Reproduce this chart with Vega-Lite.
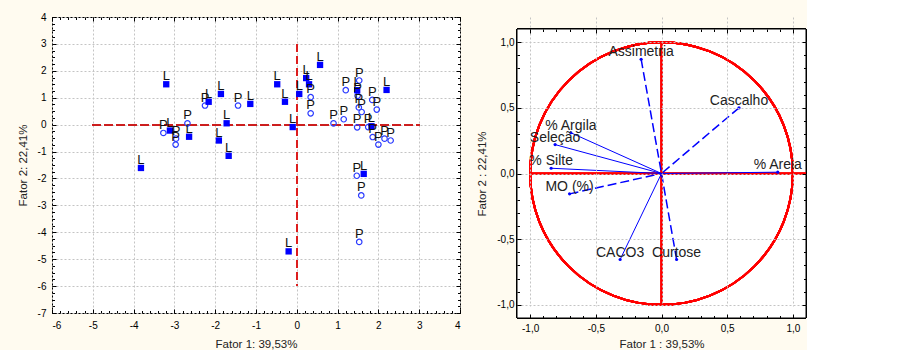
{
  "$schema": "https://vega.github.io/schema/vega-lite/v6.json",
  "background": "#fffbf0",
  "padding": {"left": 16, "top": 11, "right": 0, "bottom": 0},
  "spacing": 15,
  "config": {
    "locale": {"number": {"decimal": ",", "thousands": ".", "grouping": [3], "currency": ["", ""], "minus": "-"}},
    "font": "Liberation Sans",
    "axis": {"labelFont": "Liberation Sans", "titleFont": "Liberation Sans", "labelFontSize": 10, "titleFontSize": 11.5, "titleFontWeight": "normal", "labelColor": "#000000", "titleColor": "#222222", "tickColor": "#000000", "domainColor": "#000000", "gridColor": "#c4c4c4", "gridDash": [2, 2], "tickSize": -4}
  },
  "hconcat": [
    {
      "width": 408,
      "height": 296,
      "view": {"fill": "white", "stroke": "black", "strokeWidth": 1},
      "resolve": {"axis": {"x": "independent", "y": "independent"}},
      "data": {"values": [
        {"x": -3.20, "y": 1.50, "tipo": "L"},
        {"x": -3.82, "y": -1.61, "tipo": "L"},
        {"x": -3.11, "y": -0.22, "tipo": "L"},
        {"x": -2.64, "y": -0.45, "tipo": "L"},
        {"x": -2.16, "y": 0.85, "tipo": "L"},
        {"x": -1.86, "y": 1.14, "tipo": "L"},
        {"x": -1.72, "y": 0.05, "tipo": "L"},
        {"x": -1.91, "y": -0.59, "tipo": "L"},
        {"x": -1.67, "y": -1.16, "tipo": "L"},
        {"x": -1.14, "y": 0.77, "tipo": "L"},
        {"x": -0.48, "y": 1.50, "tipo": "L"},
        {"x": -0.29, "y": 0.85, "tipo": "L"},
        {"x": -0.10, "y": -0.09, "tipo": "L"},
        {"x": -0.20, "y": -4.71, "tipo": "L"},
        {"x": 0.06, "y": 1.14, "tipo": "L"},
        {"x": 0.23, "y": 1.73, "tipo": "L"},
        {"x": 0.30, "y": 1.50, "tipo": "L"},
        {"x": 0.57, "y": 2.22, "tipo": "L"},
        {"x": 1.48, "y": 1.28, "tipo": "L"},
        {"x": 2.20, "y": 1.29, "tipo": "L"},
        {"x": 1.83, "y": -0.06, "tipo": "L"},
        {"x": 1.64, "y": -1.83, "tipo": "L"},
        {"x": -3.27, "y": -0.31, "tipo": "P"},
        {"x": -2.96, "y": -0.52, "tipo": "P"},
        {"x": -2.97, "y": -0.74, "tipo": "P"},
        {"x": -2.68, "y": 0.05, "tipo": "P"},
        {"x": -2.25, "y": 0.71, "tipo": "P"},
        {"x": -1.44, "y": 0.71, "tipo": "P"},
        {"x": 0.34, "y": 1.02, "tipo": "P"},
        {"x": 0.34, "y": 0.42, "tipo": "P"},
        {"x": 0.90, "y": 0.05, "tipo": "P"},
        {"x": 1.15, "y": 0.20, "tipo": "P"},
        {"x": 1.20, "y": 1.28, "tipo": "P"},
        {"x": 1.53, "y": 1.64, "tipo": "P"},
        {"x": 1.49, "y": 1.07, "tipo": "P"},
        {"x": 1.52, "y": 0.64, "tipo": "P"},
        {"x": 1.59, "y": 0.47, "tipo": "P"},
        {"x": 1.85, "y": 0.92, "tipo": "P"},
        {"x": 1.96, "y": 0.56, "tipo": "P"},
        {"x": 1.48, "y": -0.10, "tipo": "P"},
        {"x": 1.75, "y": -0.09, "tipo": "P"},
        {"x": 1.86, "y": -0.46, "tipo": "P"},
        {"x": 2.00, "y": -0.74, "tipo": "P"},
        {"x": 2.15, "y": -0.52, "tipo": "P"},
        {"x": 2.30, "y": -0.59, "tipo": "P"},
        {"x": 1.47, "y": -1.90, "tipo": "P"},
        {"x": 1.58, "y": -2.63, "tipo": "P"},
        {"x": 1.53, "y": -4.36, "tipo": "P"}
      ]},
      "layer": [
        {
          "mark": {"type": "rule", "color": "#cc1f1f", "strokeDash": [8, 4], "strokeWidth": 1.2},
          "encoding": {
            "x": {"datum": -5, "type": "quantitative", "scale": {"domain": [-6, 4], "nice": false, "zero": false}, "axis": {"orient": "bottom", "values": [-6, -5, -4, -3, -2, -1, 0, 1, 2, 3, 4], "format": "d", "grid": true, "domain": false, "title": "Fator 1: 39,53%", "labelPadding": 11, "titlePadding": 8}},
            "x2": {"datum": 3, "type": "quantitative"},
            "y": {"datum": 0, "type": "quantitative", "scale": {"domain": [-7, 4], "nice": false, "zero": false}, "axis": {"orient": "left", "values": [-7, -6, -5, -4, -3, -2, -1, 0, 1, 2, 3, 4], "format": "d", "grid": true, "domain": false, "title": "Fator 2: 22,41%", "labelPadding": 10, "titlePadding": 9}}
          }
        },
        {
          "mark": {"type": "rule", "color": "#dd1f1f", "strokeDash": [8, 4], "strokeWidth": 1.2},
          "encoding": {
            "x": {"datum": 0, "type": "quantitative", "axis": {"orient": "bottom", "values": [-6, -5.8, -5.6, -5.4, -5.2, -5, -4.8, -4.6, -4.4, -4.2, -4, -3.8, -3.6, -3.4, -3.2, -3, -2.8, -2.6, -2.4, -2.2, -2, -1.8, -1.6, -1.4, -1.2, -1, -0.8, -0.6, -0.4, -0.2, 0, 0.2, 0.4, 0.6, 0.8, 1, 1.2, 1.4, 1.6, 1.8, 2, 2.2, 2.4, 2.6, 2.8, 3, 3.2, 3.4, 3.6, 3.8, 4], "labels": false, "grid": false, "domain": false, "title": null, "tickSize": -2.5}},
            "y": {"datum": 3, "type": "quantitative", "axis": {"orient": "left", "values": [-7, -6.75, -6.5, -6.25, -6, -5.75, -5.5, -5.25, -5, -4.75, -4.5, -4.25, -4, -3.75, -3.5, -3.25, -3, -2.75, -2.5, -2.25, -2, -1.75, -1.5, -1.25, -1, -0.75, -0.5, -0.25, 0, 0.25, 0.5, 0.75, 1, 1.25, 1.5, 1.75, 2, 2.25, 2.5, 2.75, 3, 3.25, 3.5, 3.75, 4], "labels": false, "grid": false, "domain": false, "title": null, "tickSize": -2.5}},
            "y2": {"datum": -6, "type": "quantitative"}
          }
        },
        {
          "transform": [{"filter": "datum.tipo === 'P'"}],
          "mark": {"type": "point", "shape": "circle", "filled": false, "stroke": "#2b3bff", "strokeWidth": 1.2, "size": 30, "opacity": 1},
          "encoding": {
            "x": {"field": "x", "type": "quantitative", "axis": {"orient": "top", "values": [-6, -5, -4, -3, -2, -1, 0, 1, 2, 3, 4], "labels": false, "grid": false, "domain": false, "title": null}},
            "y": {"field": "y", "type": "quantitative", "axis": {"orient": "right", "values": [-7, -6, -5, -4, -3, -2, -1, 0, 1, 2, 3, 4], "labels": false, "grid": false, "domain": false, "title": null}}
          }
        },
        {
          "transform": [{"filter": "datum.tipo === 'L'"}],
          "mark": {"type": "square", "filled": true, "color": "#0000ff", "size": 40, "opacity": 1},
          "encoding": {
            "x": {"field": "x", "type": "quantitative", "axis": {"orient": "top", "values": [-6, -5.8, -5.6, -5.4, -5.2, -5, -4.8, -4.6, -4.4, -4.2, -4, -3.8, -3.6, -3.4, -3.2, -3, -2.8, -2.6, -2.4, -2.2, -2, -1.8, -1.6, -1.4, -1.2, -1, -0.8, -0.6, -0.4, -0.2, 0, 0.2, 0.4, 0.6, 0.8, 1, 1.2, 1.4, 1.6, 1.8, 2, 2.2, 2.4, 2.6, 2.8, 3, 3.2, 3.4, 3.6, 3.8, 4], "labels": false, "grid": false, "domain": false, "title": null, "tickSize": -2.5}},
            "y": {"field": "y", "type": "quantitative", "axis": {"orient": "right", "values": [-7, -6.75, -6.5, -6.25, -6, -5.75, -5.5, -5.25, -5, -4.75, -4.5, -4.25, -4, -3.75, -3.5, -3.25, -3, -2.75, -2.5, -2.25, -2, -1.75, -1.5, -1.25, -1, -0.75, -0.5, -0.25, 0, 0.25, 0.5, 0.75, 1, 1.25, 1.5, 1.75, 2, 2.25, 2.5, 2.75, 3, 3.25, 3.5, 3.75, 4], "labels": false, "grid": false, "domain": false, "title": null, "tickSize": -2.5}}
          }
        },
        {
          "mark": {"type": "text", "align": "center", "baseline": "alphabetic", "dy": -4, "fontSize": 13, "color": "#111111", "font": "Liberation Sans"},
          "encoding": {
            "x": {"field": "x", "type": "quantitative", "axis": null},
            "y": {"field": "y", "type": "quantitative", "axis": null},
            "text": {"field": "tipo"}
          }
        }
      ]
    },
    {
      "width": 289,
      "height": 301,
      "view": {"fill": null, "stroke": null},
      "resolve": {"axis": {"x": "independent", "y": "independent"}},
      "data": {"values": [
        {"var": "Assimetria", "x": -0.155, "y": 0.87},
        {"var": "Cascalho", "x": 0.59, "y": 0.50},
        {"var": "% Argila", "x": -0.69, "y": 0.31},
        {"var": "Seleção", "x": -0.81, "y": 0.22},
        {"var": "% Silte", "x": -0.84, "y": 0.04},
        {"var": "MO (%)", "x": -0.70, "y": -0.155},
        {"var": "% Areia", "x": 0.885, "y": 0.01},
        {"var": "CACO3", "x": -0.315, "y": -0.655},
        {"var": "Curtose", "x": 0.115, "y": -0.655}
      ]},
      "layer": [
        {
          "mark": {"type": "rect", "fill": "white", "stroke": "black", "strokeWidth": 1},
          "encoding": {
            "x": {"datum": -1.1, "type": "quantitative", "scale": {"domain": [-1.1, 1.1], "nice": false, "zero": false}, "axis": {"orient": "bottom", "values": [-1, -0.5, 0, 0.5, 1], "format": ".1f", "grid": true, "domain": false, "zindex": 1, "title": "Fator 1 : 39,53%", "labelPadding": 9, "titlePadding": 5}},
            "x2": {"datum": 1.1, "type": "quantitative"},
            "y": {"datum": -1.1, "type": "quantitative", "scale": {"domain": [-1.1, 1.1], "range": [301, 12], "nice": false, "zero": false}, "axis": {"orient": "left", "values": [-1, -0.5, 0, 0.5, 1], "format": ".1f", "grid": true, "domain": false, "zindex": 1, "title": "Fator 2 : 22,41%", "labelPadding": 7, "titlePadding": 9}},
            "y2": {"datum": 1.1, "type": "quantitative"}
          }
        },
        {
          "mark": {"type": "point", "shape": "circle", "filled": false, "stroke": "#ff0000", "strokeWidth": 2, "size": 69013, "opacity": 1},
          "encoding": {
            "x": {"datum": 0, "type": "quantitative", "axis": {"orient": "bottom", "values": [-1, -0.9, -0.8, -0.7, -0.6, -0.5, -0.4, -0.3, -0.2, -0.1, 0, 0.1, 0.2, 0.3, 0.4, 0.5, 0.6, 0.7, 0.8, 0.9, 1], "labels": false, "grid": false, "domain": false, "title": null, "tickSize": -2.5, "zindex": 1}},
            "y": {"datum": 0, "type": "quantitative", "axis": {"orient": "left", "values": [-1, -0.9, -0.8, -0.7, -0.6, -0.5, -0.4, -0.3, -0.2, -0.1, 0, 0.1, 0.2, 0.3, 0.4, 0.5, 0.6, 0.7, 0.8, 0.9, 1], "labels": false, "grid": false, "domain": false, "title": null, "tickSize": -2.5, "zindex": 1}}
          }
        },
        {
          "mark": {"type": "rule", "color": "#ff0000", "strokeWidth": 1.5},
          "encoding": {
            "x": {"datum": 0, "type": "quantitative", "axis": {"orient": "top", "offset": -12, "values": [-1, -0.5, 0, 0.5, 1], "labels": false, "grid": false, "domain": false, "title": null, "zindex": 1}},
            "y": {"datum": -1, "type": "quantitative", "axis": {"orient": "right", "values": [-1, -0.5, 0, 0.5, 1], "labels": false, "grid": false, "domain": false, "title": null, "zindex": 1}},
            "y2": {"datum": 1, "type": "quantitative"}
          }
        },
        {
          "mark": {"type": "rule", "color": "#ff0000", "strokeWidth": 1.5},
          "encoding": {
            "x": {"datum": -1, "type": "quantitative", "axis": {"orient": "top", "offset": -12, "values": [-1, -0.9, -0.8, -0.7, -0.6, -0.5, -0.4, -0.3, -0.2, -0.1, 0, 0.1, 0.2, 0.3, 0.4, 0.5, 0.6, 0.7, 0.8, 0.9, 1], "labels": false, "grid": false, "domain": false, "title": null, "tickSize": -2.5, "zindex": 1}},
            "x2": {"datum": 1.1, "type": "quantitative"},
            "y": {"datum": 0, "type": "quantitative", "axis": {"orient": "right", "values": [-1, -0.9, -0.8, -0.7, -0.6, -0.5, -0.4, -0.3, -0.2, -0.1, 0, 0.1, 0.2, 0.3, 0.4, 0.5, 0.6, 0.7, 0.8, 0.9, 1], "labels": false, "grid": false, "domain": false, "title": null, "tickSize": -2.5, "zindex": 1}}
          }
        },
        {
          "transform": [{"filter": "indexof(['Assimetria', 'Cascalho', 'MO (%)', 'Curtose'], datum.var) < 0"}],
          "mark": {"type": "rule", "color": "#0000ff", "strokeWidth": 1},
          "encoding": {
            "x": {"field": "x", "type": "quantitative", "axis": null},
            "y": {"field": "y", "type": "quantitative", "axis": null},
            "x2": {"datum": 0, "type": "quantitative"},
            "y2": {"datum": 0, "type": "quantitative"}
          }
        },
        {
          "transform": [{"filter": "indexof(['Assimetria', 'Cascalho', 'MO (%)', 'Curtose'], datum.var) >= 0"}],
          "mark": {"type": "rule", "color": "#0000ff", "strokeWidth": 1.5, "strokeDash": [9, 4]},
          "encoding": {
            "x": {"field": "x", "type": "quantitative", "axis": null},
            "y": {"field": "y", "type": "quantitative", "axis": null},
            "x2": {"datum": 0, "type": "quantitative"},
            "y2": {"datum": 0, "type": "quantitative"}
          }
        },
        {
          "mark": {"type": "point", "shape": "circle", "filled": true, "color": "#0000ff", "size": 10, "opacity": 1},
          "encoding": {
            "x": {"field": "x", "type": "quantitative", "axis": null},
            "y": {"field": "y", "type": "quantitative", "axis": null}
          }
        },
        {
          "mark": {"type": "text", "align": "center", "baseline": "alphabetic", "dy": -3, "fontSize": 14, "color": "#222222", "font": "Liberation Sans"},
          "encoding": {
            "x": {"field": "x", "type": "quantitative", "axis": null},
            "y": {"field": "y", "type": "quantitative", "axis": null},
            "text": {"field": "var"}
          }
        }
      ]
    }
  ]
}
